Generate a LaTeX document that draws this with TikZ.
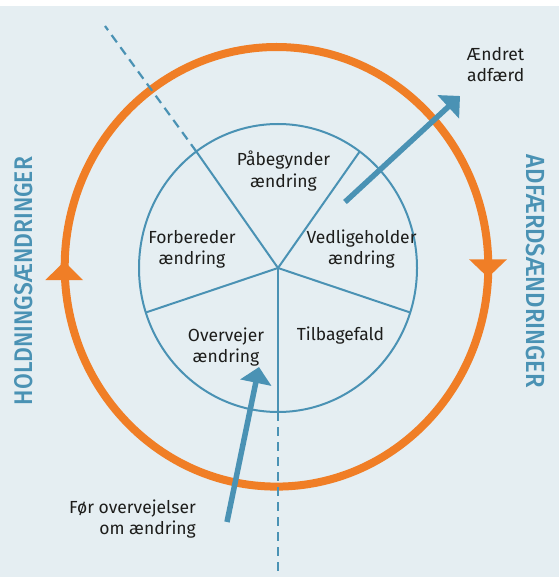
\documentclass[tikz,border=0pt]{standalone}
\usepackage{fontspec}
\setmainfont{Fira Sans}
\newfontfamily\headfont{Fira Sans Medium}
\usetikzlibrary{arrows.meta}

\definecolor{bg}{HTML}{E5EEF2}
\definecolor{ringorange}{HTML}{F07E26}
\definecolor{steel}{HTML}{4A92B4}
\definecolor{ink}{HTML}{1D1D1B}

\begin{document}
\begin{tikzpicture}[x=1pt,y=-1pt,
  stage/.style={font=\fontsize{17.5}{21}\selectfont, text=ink, inner sep=0pt},
  sidelabel/.style={text=steel, inner sep=0pt, anchor=center},
  spoke/.style={draw=steel, line width=2pt},
  guide/.style={draw=steel, line width=2.2pt, dash pattern=on 9pt off 6pt},
  bigarrow/.style={draw=steel, line width=5.5pt,
    -{Triangle[length=16pt, width=31pt]}},
  cycletip/.style={fill=ringorange}]

  % canvas
  \useasboundingbox (0,0) rectangle (559,577);
  \fill[white] (0,0) rectangle (559,577);
  \fill[bg] (0,6) rectangle (559,577);

  % centre of the wheel and its rim points (y axis points down)
  \coordinate (pivot) at (278,268);
  \path (pivot) ++(-54:139 and 144)  coordinate (rim54);
  \path (pivot) ++(-126:139 and 144) coordinate (rim126);
  \path (pivot) ++(-198:139 and 144) coordinate (rim198);
  \path (pivot) ++(-270:139 and 144) coordinate (rim270);
  \path (pivot) ++(-342:139 and 144) coordinate (rim342);
  \coordinate (guide-top) at (105,26);
  \coordinate (guide-bottom) at (278,571);

  % outer cycle
  \draw[ringorange, line width=8pt] (276.5,266.8) ellipse [x radius=211.8pt, y radius=219.8pt];
  \fill[cycletip] (64.2,261.5) -- (83,280) -- (45.4,280) -- cycle;
  \fill[cycletip] (469,259.3) -- (507,259.3) -- (488,277.5) -- cycle;

  % dashed guide lines
  \draw[guide] (rim126) -- (guide-top);
  \draw[guide] (rim270) -- (guide-bottom);

  % wheel
  \draw[spoke] (pivot) ellipse [x radius=139pt, y radius=144pt];
  \foreach \r in {rim54,rim126,rim198,rim270,rim342}
    \draw[spoke] (pivot) -- (\r);

  % stage labels (anchored on the baseline of their last line)
  \node[stage, align=center, anchor=base] (s-start) at (283.5,187) {Påbegynder\\ændring};
  \node[stage, align=center, anchor=base] (s-keep) at (361.5,264.5) {Vedligeholder\\ændring};
  \node[stage, align=center, anchor=base] (s-prep) at (192,264.5) {Forbereder\\ændring};
  \node[stage, align=center, anchor=base] (s-think) at (226,362) {Overvejer\\ændring};
  \node[stage, anchor=base] (s-relapse) at (340.5,340) {Tilbagefald};

  % entry and exit
  \node[stage, align=left, anchor=base west] (exit) at (467,81.7) {Ændret\\adfærd};
  \node[stage, align=right, anchor=base east] (entry) at (196,534.3) {Før overvejelser\\om ændring};

  \coordinate (exit-tail) at (345,202);
  \coordinate (exit-tip) at (460,96);
  \coordinate (entry-tail) at (227,522);
  \coordinate (entry-tip) at (259,367);
  \draw[bigarrow] (exit-tail) -- (exit-tip);
  \draw[bigarrow] (entry-tail) -- (entry-tip);

  % side headings
  \node[sidelabel, rotate=90] (attitude) at (24,281)
    {\resizebox{248pt}{18pt}{\headfont HOLDNINGSÆNDRINGER}};
  \node[sidelabel, rotate=-90] (behaviour) at (535.5,271.5)
    {\resizebox{233pt}{18.5pt}{\headfont ADFÆRDSÆNDRINGER}};
\end{tikzpicture}
\end{document}
